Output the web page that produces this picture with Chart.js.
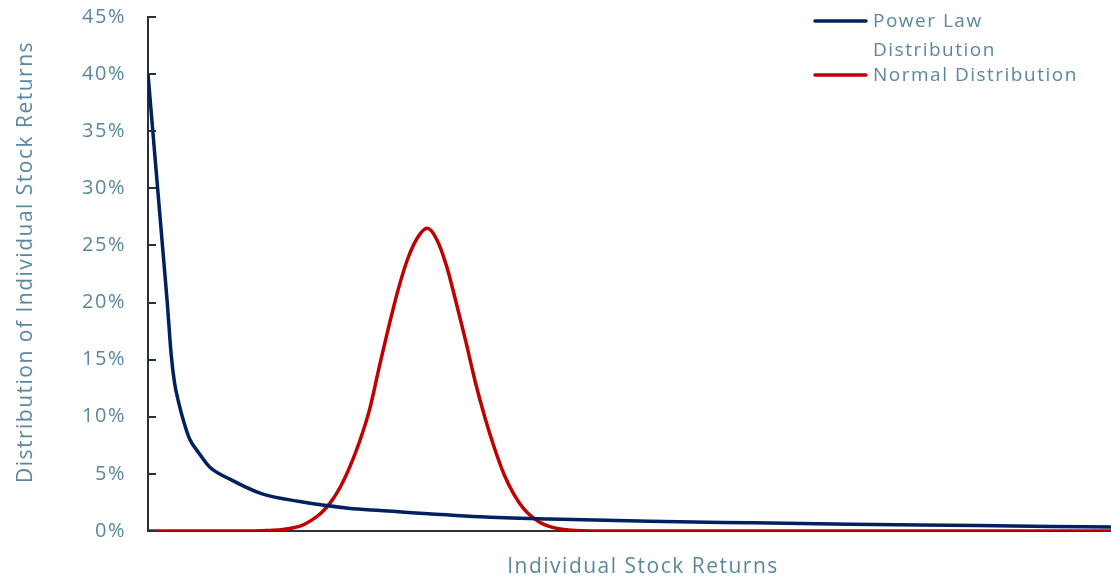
<!DOCTYPE html>
<html>
<head>
<meta charset="utf-8">
<style>
  html, body { margin: 0; padding: 0; background: #ffffff; }
  #wrap { width: 1111px; height: 578px; position: relative; }
</style>
<script src="https://cdn.jsdelivr.net/npm/chart.js@4/dist/chart.umd.min.js"></script>
</head>
<body>
<div id="wrap"><canvas id="chart" width="1111" height="578"></canvas></div>
<script>
// Individual stock returns, arbitrary units from 0 (left) to 100 (right)
const powerLawX = [0.0, 1.0, 1.5, 2.0, 2.4, 2.75, 3.2, 3.7, 4.3, 5.3, 6.4, 8.6, 11.7, 15.6, 20.8, 24.1, 34.5, 41.7, 52.1, 62.5, 72.9, 83.2, 93.7, 100.0];
// Share of stocks (%) under a power law
const powerLawY = [40.0, 30.0, 25.0, 20.0, 15.5, 13.0, 11.2, 9.6, 8.1, 6.8, 5.6, 4.5, 3.3, 2.6, 2.0, 1.8, 1.25, 1.05, 0.85, 0.72, 0.6, 0.5, 0.4, 0.35];

const normalX = [0, 11, 12, 13, 14, 15, 16, 17, 18, 19, 20, 21, 22, 23, 24, 25, 26, 27, 28, 29, 30,
                 31, 32, 33, 34, 35, 36, 37, 38, 39, 40, 41, 42, 43, 44, 45, 46, 47, 100];
// Share of stocks (%) under a normal distribution
const normalY = [0.0, 0.01, 0.03, 0.06, 0.13, 0.27, 0.5, 0.95, 1.6, 2.55, 3.9, 5.7, 7.9, 10.6, 14.3, 17.9, 21.2, 23.9, 25.7, 26.5, 25.5,
                 23.2, 20.0, 16.6, 13.0, 9.9, 7.2, 4.9, 3.2, 1.95, 1.15, 0.62, 0.32, 0.15, 0.07, 0.03, 0.01, 0.0, 0.0];

const yTicks = [0, 5, 10, 15, 20, 25, 30, 35, 40, 45];

const seriesNames = ['Power Law Distribution', 'Normal Distribution'];
const seriesColors = ['#002060', '#C00000'];
const xTitle = 'Individual Stock Returns';
const yTitle = 'Distribution of Individual Stock Returns';

const textColor = '#5b87a0';
const axisColor = '#263238';
const fontFamily = '"Open Sans", "Noto Sans", sans-serif';

const toPoints = (xs, ys) => xs.map((x, i) => ({ x: x, y: ys[i] }));

// Slightly open tracking for all chart text
const spacing = {
  id: 'spacing',
  beforeDraw(chart) { chart.ctx.letterSpacing = '1.5px'; }
};

// Short tick marks pointing into the plot from the value axis
const innerTicks = {
  id: 'innerTicks',
  afterDatasetsDraw(chart) {
    const y = chart.scales.y;
    const ctx = chart.ctx;
    ctx.save();
    ctx.strokeStyle = axisColor;
    ctx.lineWidth = 2;
    yTicks.forEach(v => {
      const py = Math.round(y.getPixelForValue(v));
      ctx.beginPath();
      ctx.moveTo(y.right, py);
      ctx.lineTo(y.right + 8, py);
      ctx.stroke();
    });
    ctx.restore();
  }
};

// Axis titles
const axisTitles = {
  id: 'axisTitles',
  afterDraw(chart) {
    const ctx = chart.ctx;
    ctx.save();
    ctx.font = '21px ' + fontFamily;
    ctx.fillStyle = textColor;
    ctx.textAlign = 'center';
    ctx.textBaseline = 'middle';
    ctx.fillText(xTitle, 643, 567);
    ctx.translate(26, 262);
    ctx.rotate(-Math.PI / 2);
    ctx.fillText(yTitle, 0, 0);
    ctx.restore();
  }
};

// Legend in the top-right corner, the long name wrapped onto two lines
const cornerLegend = {
  id: 'cornerLegend',
  afterDraw(chart) {
    const ctx = chart.ctx;
    ctx.save();
    ctx.font = '19px ' + fontFamily;
    ctx.textBaseline = 'middle';
    ctx.textAlign = 'left';
    const lineX0 = 815, lineX1 = 866, textX = 873;
    const rows = [[21, 50], [75]];
    chart.data.datasets.forEach((ds, i) => {
      const words = ds.label.split(' ');
      const lines = rows[i].length > 1 ? [words.slice(0, 2).join(' '), words.slice(2).join(' ')] : [ds.label];
      ctx.strokeStyle = ds.borderColor;
      ctx.lineWidth = 3.5;
      ctx.lineCap = 'round';
      ctx.beginPath();
      ctx.moveTo(lineX0, rows[i][0]);
      ctx.lineTo(lineX1, rows[i][0]);
      ctx.stroke();
      ctx.fillStyle = textColor;
      lines.forEach((t, k) => ctx.fillText(t, textX, rows[i][k] + 1));
    });
    ctx.restore();
  }
};

new Chart(document.getElementById('chart'), {
  type: 'line',
  data: {
    datasets: [
      {
        label: seriesNames[0],
        data: toPoints(powerLawX, powerLawY),
        borderColor: seriesColors[0],
        backgroundColor: seriesColors[0],
        borderWidth: 3.5,
        pointRadius: 0,
        cubicInterpolationMode: 'monotone',
        fill: false
      },
      {
        label: seriesNames[1],
        data: toPoints(normalX, normalY),
        borderColor: seriesColors[1],
        backgroundColor: seriesColors[1],
        borderWidth: 3.5,
        pointRadius: 0,
        cubicInterpolationMode: 'monotone',
        fill: false
      }
    ]
  },
  options: {
    responsive: false,
    animation: false,
    devicePixelRatio: 1,
    layout: { autoPadding: false, padding: { top: 17, right: 0, left: 0, bottom: 0 } },
    plugins: {
      legend: { display: false },
      tooltip: { enabled: false }
    },
    scales: {
      x: {
        type: 'linear',
        min: 0,
        max: 100,
        grid: { display: false, drawTicks: false },
        border: { display: true, color: axisColor, width: 2 },
        ticks: { display: false },
        afterFit(scale) {
          scale.height = 47;
          scale.paddingLeft = 0;
          scale.paddingRight = 0;
        }
      },
      y: {
        min: 0,
        max: 45,
        afterBuildTicks(scale) { scale.ticks = yTicks.map(v => ({ value: v })); },
        grid: { display: false, drawTicks: false },
        border: { display: true, color: axisColor, width: 2 },
        ticks: {
          color: textColor,
          padding: 22,
          font: { family: fontFamily, size: 20 },
          callback: v => v + '%'
        },
        afterFit(scale) {
          scale.width = 148;
          scale.paddingTop = 0;
          scale.paddingBottom = 0;
        }
      }
    }
  },
  plugins: [spacing, innerTicks, axisTitles, cornerLegend]
});
</script>
</body>
</html>
